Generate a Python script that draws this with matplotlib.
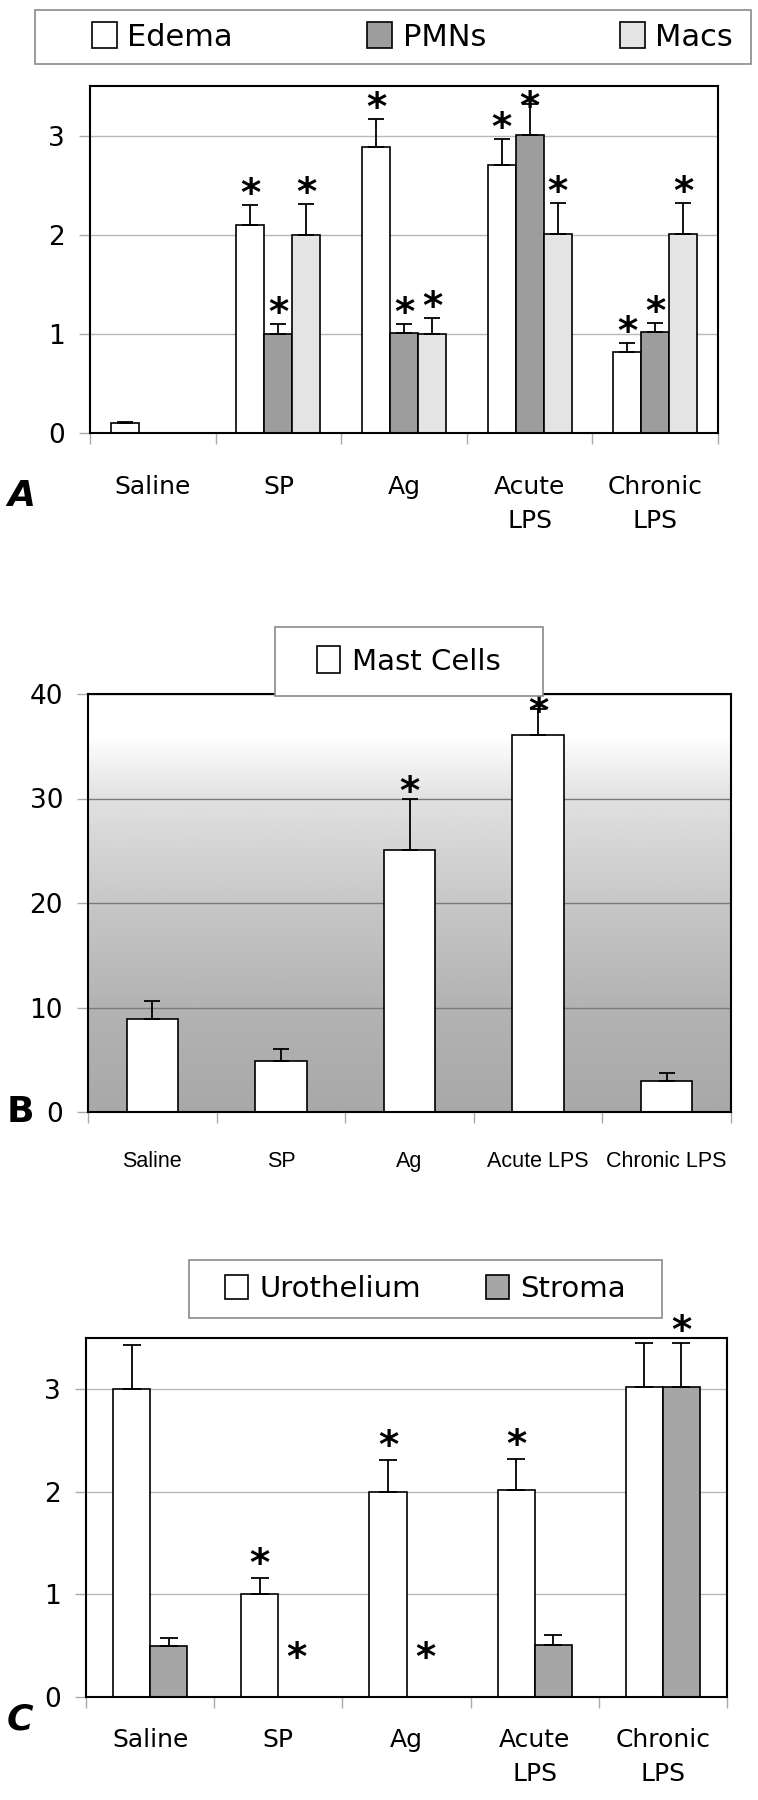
import numpy as np
import matplotlib
matplotlib.use("Agg")
import matplotlib.pyplot as plt
from matplotlib.patches import Rectangle

# ---- Panel A: inflammation scores ----
groups_a = ["Saline", "SP", "Ag", "Acute\nLPS", "Chronic\nLPS"]
edema = [0.10, 2.10, 2.88, 2.70, 0.82]
edema_sem = [0.015, 0.20, 0.29, 0.27, 0.09]
edema_sig = [False, True, True, True, True]
pmns = [0.0, 1.00, 1.01, 3.01, 1.02]
pmns_sem = [0.0, 0.10, 0.09, 0.31, 0.09]
pmns_sig = [False, True, True, True, True]
macs = [0.0, 2.00, 1.00, 2.01, 2.01]
macs_sem = [0.0, 0.31, 0.16, 0.31, 0.31]
macs_sig = [False, True, True, True, True]

# ---- Panel B: mast cells ----
groups_b = ["Saline", "SP", "Ag", "Acute LPS", "Chronic LPS"]
mast = [8.9, 4.9, 25.1, 36.1, 3.0]
mast_sem = [1.75, 1.1, 4.9, 2.5, 0.7]
mast_sig = [False, False, True, True, False]

# ---- Panel C: urothelium / stroma ----
groups_c = ["Saline", "SP", "Ag", "Acute\nLPS", "Chronic\nLPS"]
uro = [3.00, 1.00, 2.00, 2.02, 3.02]
uro_sem = [0.43, 0.16, 0.31, 0.30, 0.43]
uro_sig = [False, True, True, True, False]
stroma = [0.50, 0.0, 0.0, 0.51, 3.02]
stroma_sem = [0.08, 0.0, 0.0, 0.09, 0.43]
stroma_sig = [False, True, True, False, True]

W, H = 758, 1800
fig = plt.figure(figsize=(W / 100, H / 100), dpi=100)
plt.rcParams['font.family'] = ['DejaVu Sans']
NARROW = ['Liberation Sans', 'DejaVu Sans']


def px_axes(left, top, right, bottom):
    # figure pixel box -> axes
    return fig.add_axes([left / W, 1 - bottom / H, (right - left) / W, (bottom - top) / H])


def draw_bars(ax, x, vals, sems, sigs, width, color, cap, star_off, star_min, star_max):
    vals = np.array(vals)
    sems = np.array(sems)
    bars = ax.bar(x, vals, width, color=color, edgecolor='black', linewidth=1.2, zorder=2)
    has = sems > 0
    ax.errorbar(x[has], vals[has], yerr=[np.zeros(has.sum()), sems[has]], fmt='none',
                ecolor='black', elinewidth=1.3, capsize=cap, capthick=1.3, zorder=3)
    for xi, v, s, sig in zip(x, vals, sems, sigs):
        if sig:
            y = min(max(v + s + star_off, star_min), star_max)
            ax.text(xi, y, '*', ha='center', va='center', fontsize=28, fontweight='bold',
                    zorder=4, clip_on=False)
    return bars


def style_axis(ax, labels, ymax, yticks, label_size, pad, family=None, gridcolor='#b8b8b8'):
    n = len(labels)
    ax.set_xlim(-0.5, n - 0.5)
    ax.set_ylim(0, ymax)
    ax.set_yticks(yticks)
    ax.set_xticks(np.arange(n))
    ax.set_xticks(np.arange(n + 1) - 0.5, minor=True)
    ax.tick_params(axis='x', which='major', length=0, pad=pad)
    ax.tick_params(axis='x', which='minor', length=8, color='#aaaaaa', width=1)
    ax.tick_params(axis='y', length=8, color='#aaaaaa', width=1, pad=10, labelsize=19)
    fam = family if family else ['DejaVu Sans']
    ax.set_xticklabels(labels, fontsize=label_size, linespacing=1.55, family=fam)
    ax.yaxis.grid(True, color=gridcolor, linewidth=1)
    ax.set_axisbelow(True)
    for s in ax.spines.values():
        s.set_color('black')
        s.set_linewidth(1.5)


def legend_box(left, top, right, bottom):
    fig.add_artist(Rectangle((left / W, 1 - bottom / H), (right - left) / W, (bottom - top) / H,
                             transform=fig.transFigure, facecolor='white',
                             edgecolor='#8a8a8a', linewidth=1.2, zorder=5))


# ================= Panel A =================
axA = px_axes(90, 86, 718, 433)
xa = np.arange(len(groups_a))
wa = 0.223
bE = draw_bars(axA, xa - wa, edema, edema_sem, edema_sig, wa, 'white', 5.5, 0.10, 0, 3.28)
bP = draw_bars(axA, xa, pmns, pmns_sem, pmns_sig, wa, '#9d9d9d', 5.5, 0.10, 0, 3.28)
bM = draw_bars(axA, xa + wa, macs, macs_sem, macs_sig, wa, '#e4e4e4', 5.5, 0.10, 0, 3.28)
style_axis(axA, groups_a, 3.5, [0, 1, 2, 3], 18, 30)

legend_box(35, 10, 751, 64)
legA = fig.legend([bE, bP, bM], ["Edema", "PMNs", "Macs"], ncol=3, loc='center',
                  bbox_to_anchor=((35 + 751) / 2 / W + 0.026, 1 - 37 / H), frameon=False,
                  fontsize=22, handlelength=0.8, handleheight=0.9, handletextpad=0.35,
                  columnspacing=4.4)
legA.set_zorder(6)
fig.text(21 / W, 1 - 496 / H, "A", fontsize=26, style='italic', fontweight='bold',
         ha='center', va='center')

# ================= Panel B =================
axB = px_axes(88, 694, 731, 1112)
xb = np.arange(len(groups_b))
# shaded background (white at top, grey towards the bottom)
shade_y = [0, 10, 20, 30, 36, 40]
shade_v = [0.66, 0.70, 0.78, 0.88, 1.0, 1.0]
yy = np.linspace(0, 40, 200)
grad = np.interp(yy, shade_y, shade_v)[:, None] * np.ones((1, 10))
axB.imshow(grad, extent=[-0.5, 4.5, 0, 40], origin='lower', aspect='auto',
           cmap='gray', vmin=0, vmax=1, zorder=0)
bMast = draw_bars(axB, xb, mast, mast_sem, mast_sig, 0.4, 'white', 5.5, 0.55, 0, 38.2)
style_axis(axB, groups_b, 40, [0, 10, 20, 30, 40], 15.5, 28,
           family=NARROW, gridcolor='#7a7a7a')
axB.tick_params(axis='y', labelsize=19)

legend_box(275, 627, 543, 696)
legB = fig.legend([bMast], ["Mast Cells"], loc='center',
                  bbox_to_anchor=((275 + 543) / 2 / W, 1 - 661 / H), frameon=False,
                  handlelength=0.8, handleheight=1.0, handletextpad=0.4,
                  prop={'family': ['DejaVu Sans'], 'size': 21})
legB.set_zorder(6)
fig.text(20 / W, 1 - 1112 / H, "B", fontsize=26, fontweight='bold', ha='center', va='center')

# ================= Panel C =================
axC = px_axes(86, 1338, 727, 1697)
xc = np.arange(len(groups_c))
wc = 0.29
bU = draw_bars(axC, xc - wc / 2, uro, uro_sem, uro_sig, wc, 'white', 6.5, 0.13, 0.37, 3.6)
bS = draw_bars(axC, xc + wc / 2, stroma, stroma_sem, stroma_sig, wc, '#a6a6a6', 6.5, 0.11, 0.37, 3.6)
style_axis(axC, groups_c, 3.5, [0, 1, 2, 3], 18, 22)

legend_box(189, 1260, 662, 1318)
legC = fig.legend([bU, bS], ["Urothelium", "Stroma"], ncol=2, loc='center',
                  bbox_to_anchor=((189 + 662) / 2 / W, 1 - 1289 / H), frameon=False,
                  fontsize=21, handlelength=0.8, handleheight=0.9, handletextpad=0.4,
                  columnspacing=2.2)
legC.set_zorder(6)
fig.text(20 / W, 1 - 1719 / H, "C", fontsize=26, style='italic', fontweight='bold',
         ha='center', va='center')

fig.savefig("out.png", dpi=100)
